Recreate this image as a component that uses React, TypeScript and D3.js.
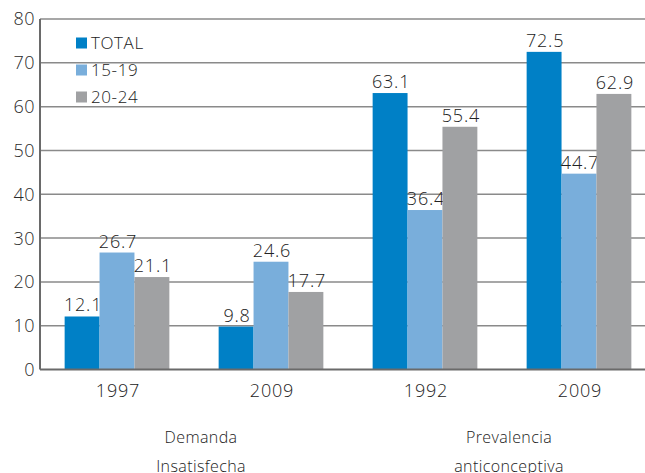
import React, { useEffect, useRef } from "react";
import * as d3 from "d3";

const categories = ["1997", "2009", "1992", "2009 "];
const seriesNames = ["TOTAL", "15-19", "20-24"];
const totalValues = [12.1, 9.8, 63.1, 72.5];
const age1519Values = [26.7, 24.6, 36.4, 44.7];
const age2024Values = [21.1, 17.7, 55.4, 62.9];
const yTicks = [0, 10, 20, 30, 40, 50, 60, 70, 80];
const groupLabels = [
  { lines: ["Demanda", "Insatisfecha"], from: 0, to: 1 },
  { lines: ["Prevalencia", "anticonceptiva"], from: 2, to: 3 },
];

const colors = ["#0080c6", "#79aedb", "#a0a1a3"];
const font = "'Open Sans', sans-serif";

const App = () => {
  const ref = useRef<SVGSVGElement>(null);

  useEffect(() => {
    const svg = d3.select(ref.current);
    svg.selectAll("*").remove();

    const x0 = 40;
    const yTop = 19;
    const yBottom = 369.5;

    const x = d3.scaleBand().domain(categories).range([x0, x0 + 616]).paddingInner(0.32).paddingOuter(0.16);
    const xs = d3.scaleBand().domain(seriesNames).range([0, x.bandwidth()]);
    const y = d3.scaleLinear().domain([0, 80]).range([yBottom, yTop]);

    const series = [totalValues, age1519Values, age2024Values];

    // grid lines
    svg.append("g")
      .selectAll("line")
      .data(yTicks.filter(d => d > 0))
      .join("line")
      .attr("x1", x0)
      .attr("x2", 645)
      .attr("y1", d => y(d))
      .attr("y2", d => y(d))
      .attr("stroke", "#8a8a8a")
      .attr("stroke-width", 1.5);

    // tick labels
    svg.append("g")
      .selectAll("text")
      .data(yTicks)
      .join("text")
      .attr("x", 35)
      .attr("y", d => y(d))
      .attr("dy", "0.36em")
      .attr("text-anchor", "end")
      .attr("font-family", font)
      .attr("font-size", 18)
      .attr("font-weight", 300)
      .attr("letter-spacing", 0.5)
      .attr("fill", "#2a2a2a")
      .text(d => d);

    // bars
    seriesNames.forEach((name, si) => {
      const g = svg.append("g");
      g.selectAll("rect")
        .data(series[si])
        .join("rect")
        .attr("x", (d, i) => x(categories[i])! + xs(name)!)
        .attr("width", xs.bandwidth())
        .attr("y", d => y(d))
        .attr("height", d => y(0) - y(d))
        .attr("fill", colors[si]);
      g.selectAll("text")
        .data(series[si])
        .join("text")
        .attr("x", (d, i) => x(categories[i])! + xs(name)! + xs.bandwidth() / 2 + 1)
        .attr("y", d => y(d) - 5)
        .attr("text-anchor", "middle")
        .attr("font-family", font)
        .attr("font-size", 18)
        .attr("font-weight", 300)
        .attr("letter-spacing", 0.8)
        .attr("fill", "#222")
        .text(d => d.toFixed(1));
    });

    // axes
    svg.append("line")
      .attr("x1", x0).attr("x2", x0)
      .attr("y1", yTop).attr("y2", yBottom)
      .attr("stroke", "#6a6a6a").attr("stroke-width", 2);
    svg.append("line")
      .attr("x1", x0).attr("x2", 645)
      .attr("y1", yBottom).attr("y2", yBottom)
      .attr("stroke", "#6a6a6a").attr("stroke-width", 2);

    // category labels
    svg.append("g")
      .selectAll("text")
      .data(categories)
      .join("text")
      .attr("x", d => x(d)! + x.bandwidth() / 2 + 1)
      .attr("y", 397)
      .attr("text-anchor", "middle")
      .attr("font-family", font)
      .attr("font-size", 18)
      .attr("font-weight", 300)
      .attr("letter-spacing", 0.8)
      .attr("fill", "#222")
      .text(d => d.trim());

    // group labels
    groupLabels.forEach(gl => {
      const cx = (x(categories[gl.from])! + x(categories[gl.to])! + x.bandwidth()) / 2 + 7;
      gl.lines.forEach((line, li) => {
        svg.append("text")
          .attr("x", cx)
          .attr("y", 443 + li * 29)
          .attr("text-anchor", "middle")
          .attr("font-family", font)
          .attr("font-size", 16)
          .attr("font-weight", 300)
          .attr("letter-spacing", 0.4)
          .attr("fill", "#222")
          .text(line);
      });
    });

    // legend
    const legend = svg.append("g")
      .selectAll("g")
      .data(seriesNames)
      .join("g")
      .attr("transform", (d, i) => `translate(76,${43 + i * 27})`);
    legend.append("rect")
      .attr("x", 0).attr("y", -5.5)
      .attr("width", 11).attr("height", 11)
      .attr("fill", (d, i) => colors[i]);
    legend.append("text")
      .attr("x", 15)
      .attr("dy", "0.36em")
      .attr("font-family", font)
      .attr("font-size", 17)
      .attr("font-weight", 300)
      .attr("letter-spacing", 0.6)
      .attr("fill", "#222")
      .text(d => d);
  }, []);

  return (
    <svg
      ref={ref}
      width={645}
      height={473}
      style={{ position: "absolute", left: 0, top: 0, background: "#fff" }}
    />
  );
};

export default App;
